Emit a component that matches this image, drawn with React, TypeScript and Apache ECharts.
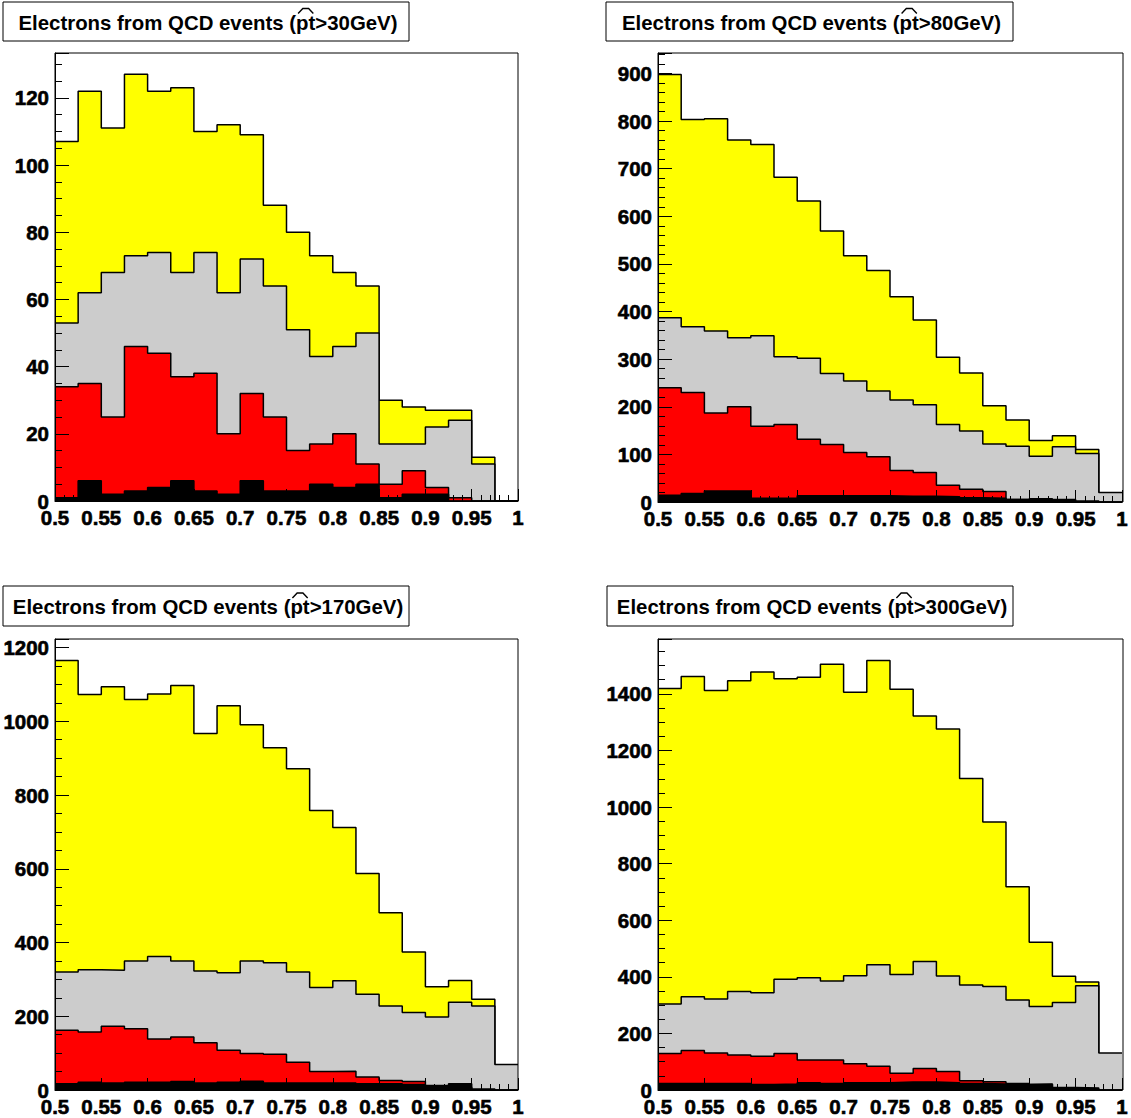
import React, { useEffect, useRef } from 'react';
import * as echarts from 'echarts';

// ---------- data ----------
const X_MIN = 0.5;
const X_MAX = 1.0;
const BIN_W = 0.025;
const xTickLabels = ['0.5', '0.55', '0.6', '0.65', '0.7', '0.75', '0.8', '0.85', '0.9', '0.95', '1'];

const ptCuts = ['30', '80', '170', '300'];

// pt > 30 GeV
const yellow30 = [107, 122, 111, 127, 122, 123, 110, 112, 109, 88, 80, 73, 68, 64, 30, 28, 27, 27, 13, 0];
const gray30 = [53, 62, 68, 73, 74, 68, 74, 62, 72, 64, 51, 43, 46, 50, 17, 17, 22, 24, 11, 0];
const red30 = [34, 35, 25, 46, 44, 37, 38, 20, 32, 25, 15, 17, 20, 11, 5, 9, 4, 1, 0, 0];
const black30 = [1, 6, 2, 3, 4, 6, 3, 2, 6, 3, 3, 5, 4, 5, 1, 2, 2, 0, 0, 0];

// pt > 80 GeV
const yellow80 = [898, 803, 805, 760, 751, 682, 632, 569, 517, 486, 431, 382, 304, 271, 202, 172, 129, 139, 110, 0];
const gray80 = [387, 368, 359, 345, 349, 305, 302, 270, 254, 233, 214, 204, 163, 149, 122, 117, 96, 116, 102, 20];
const red80 = [240, 230, 187, 200, 159, 163, 132, 121, 104, 95, 66, 62, 35, 27, 22, 5, 4, 3, 0, 0];
const black80 = [14, 18, 23, 23, 8, 8, 13, 13, 13, 13, 12, 12, 11, 9, 8, 5, 7, 5, 2, 0];

// pt > 170 GeV
const yellow170 = [1165, 1073, 1094, 1059, 1074, 1097, 967, 1042, 991, 928, 871, 758, 712, 587, 481, 374, 280, 297, 246, 0];
const gray170 = [320, 326, 325, 350, 362, 350, 323, 318, 350, 345, 320, 278, 296, 260, 228, 210, 198, 238, 228, 69];
const red170 = [162, 157, 173, 166, 138, 144, 128, 108, 99, 97, 75, 50, 51, 35, 26, 23, 6, 8, 0, 0];
const black170 = [17, 21, 19, 21, 21, 23, 19, 21, 24, 19, 19, 19, 19, 17, 17, 15, 12, 17, 3, 0];

// pt > 300 GeV
const yellow300 = [1419, 1461, 1412, 1446, 1477, 1453, 1459, 1505, 1406, 1518, 1416, 1322, 1276, 1101, 947, 718, 522, 402, 382, 0];
const gray300 = [304, 330, 322, 348, 344, 391, 397, 385, 404, 443, 408, 454, 403, 371, 366, 318, 295, 309, 368, 131];
const red300 = [129, 140, 131, 124, 119, 129, 106, 106, 93, 84, 59, 76, 65, 33, 29, 23, 19, 0, 0, 0];
const black300 = [23, 23, 23, 23, 19, 21, 26, 23, 26, 26, 28, 28, 26, 23, 21, 19, 21, 9, 7, 0];

const yTickLabels30 = ['0', '20', '40', '60', '80', '100', '120'];
const yTickLabels80 = ['0', '100', '200', '300', '400', '500', '600', '700', '800', '900'];
const yTickLabels170 = ['0', '200', '400', '600', '800', '1000', '1200'];
const yTickLabels300 = ['0', '200', '400', '600', '800', '1000', '1200', '1400'];

const yMajor = [20, 100, 200, 200];
const yMinor = [5, 20, 50, 50];

const layerColors = ['#ffff00', '#cccccc', '#ff0000', '#000000'];

const histSets = [
  [yellow30, gray30, red30, black30],
  [yellow80, gray80, red80, black80],
  [yellow170, gray170, red170, black170],
  [yellow300, gray300, red300, black300],
];
const yTickLabelSets = [yTickLabels30, yTickLabels80, yTickLabels170, yTickLabels300];

// ---------- layout ----------
const panels = [
  { left: 55, top: 53, width: 463, height: 448, box: { x: 3, y: 2, w: 406, h: 39 } },
  { left: 658, top: 53, width: 465, height: 449, box: { x: 606, y: 2, w: 407, h: 39 } },
  { left: 55, top: 639, width: 463, height: 451, box: { x: 3, y: 586, w: 406, h: 40 } },
  { left: 658, top: 639, width: 465, height: 451, box: { x: 607, y: 586, w: 406, h: 40 } },
];

const FONT = '"Liberation Sans", Arial, Helvetica, sans-serif';
const FS = 20.5;
const TFS = 20.4;

function histData(vals: number[]) {
  const pts: number[][] = vals.map((v, i) => [X_MIN + i * BIN_W, v]);
  pts.push([X_MAX, vals[vals.length - 1]]);
  return pts;
}

function measure(text: string) {
  const c = document.createElement('canvas').getContext('2d') as CanvasRenderingContext2D;
  c.font = `bold ${TFS}px ${FONT}`;
  return c.measureText(text).width;
}

const labelStyle = {
  color: '#000',
  fontSize: FS,
  fontWeight: 'bold',
  fontFamily: FONT,
  textBorderColor: '#000',
  textBorderWidth: 0.6,
};

export default function App() {
  const ref = useRef<HTMLDivElement>(null);

  useEffect(() => {
    if (!ref.current) return;
    const chart = echarts.init(ref.current, undefined, { renderer: 'svg' });

    const grid: any[] = [];
    const xAxis: any[] = [];
    const yAxis: any[] = [];
    const series: any[] = [];
    const graphic: any[] = [];

    panels.forEach((p, pi) => {
      grid.push({ left: p.left, top: p.top, width: p.width, height: p.height, show: false });
      const yMax = Math.max(...histSets[pi][0]) * 1.05;
      const labels = yTickLabelSets[pi];

      xAxis.push({
        type: 'value',
        gridIndex: pi,
        min: X_MIN,
        max: X_MAX,
        interval: 0.05,
        z: 10,
        axisLine: { show: true, onZero: false, lineStyle: { color: '#000', width: 1 } },
        axisTick: { show: true, inside: true, length: 12, lineStyle: { color: '#000', width: 1 } },
        minorTick: { show: true, splitNumber: 5, length: 6, lineStyle: { color: '#000', width: 1 } },
        splitLine: { show: false },
        minorSplitLine: { show: false },
        axisLabel: {
          ...labelStyle,
          margin: 6,
          formatter: (v: number) => {
            const i = Math.round((v - X_MIN) / 0.05);
            return xTickLabels[i] ?? '';
          },
        },
      });

      // labelled major-tick axis
      yAxis.push({
        type: 'value',
        gridIndex: pi,
        position: 'left',
        min: 0,
        max: yMax,
        interval: yMajor[pi],
        z: 10,
        axisLine: { show: true, lineStyle: { color: '#000', width: 1 } },
        axisTick: { show: true, inside: true, length: 14, lineStyle: { color: '#000', width: 1 } },
        splitLine: { show: false },
        axisLabel: {
          ...labelStyle,
          margin: 6,
          formatter: (v: number) => {
            const s = labels.find((l) => Math.abs(Number(l) - v) < 1e-6);
            return s ?? '';
          },
        },
      });
      // minor-tick axis
      yAxis.push({
        type: 'value',
        gridIndex: pi,
        position: 'left',
        min: 0,
        max: yMax,
        interval: yMinor[pi],
        z: 10,
        axisLine: { show: false },
        axisTick: { show: true, inside: true, length: 7, lineStyle: { color: '#000', width: 1 } },
        splitLine: { show: false },
        axisLabel: { show: false },
      });

      histSets[pi].forEach((vals, li) => {
        series.push({
          type: 'line',
          xAxisIndex: pi,
          yAxisIndex: pi * 2,
          data: histData(vals),
          step: 'end',
          symbol: 'none',
          showSymbol: false,
          z: 2 + li,
          lineStyle: { color: '#000', width: 1.5 },
          itemStyle: { color: layerColors[li] },
          areaStyle: { color: layerColors[li], opacity: 1 },
          emphasis: { disabled: true },
          silent: true,
        });
      });

      // frame
      graphic.push({
        type: 'rect',
        z: 50,
        silent: true,
        shape: { x: p.left, y: p.top, width: p.width, height: p.height },
        style: { fill: 'none', stroke: '#000', lineWidth: 1 },
      });

      // title box
      const b = p.box;
      const tA = 'Electrons from QCD events (';
      const tB = 'pt';
      const tC = `>${ptCuts[pi]}GeV)`;
      const wA = measure(tA);
      const wB = measure(tB);
      const wC = measure(tC);
      const W = wA + wB + wC;
      const x0 = b.x + b.w / 2 - W / 2 + 2;
      const cy = b.y + b.h / 2 + 1;
      const tStyle = (text: string, x: number) => ({
        type: 'text',
        z: 60,
        silent: true,
        x,
        y: cy,
        style: {
          text,
          fill: '#000',
          font: `bold ${TFS}px ${FONT}`,
          textAlign: 'left',
          textVerticalAlign: 'middle',
          verticalAlign: 'middle',
        },
      });
      graphic.push({
        type: 'rect',
        z: 55,
        silent: true,
        shape: { x: b.x, y: b.y, width: b.w, height: b.h },
        style: { fill: '#fff', stroke: '#000', lineWidth: 1 },
      });
      graphic.push(tStyle(tA, x0));
      graphic.push(tStyle(tB, x0 + wA));
      graphic.push(tStyle(tC, x0 + wA + wB));
      const hx = x0 + wA;
      graphic.push({
        type: 'polyline',
        z: 60,
        silent: true,
        shape: {
          points: [
            [hx + 2, cy - 9],
            [hx + wB * 0.35, cy - 14],
            [hx + wB * 0.65, cy - 14],
            [hx + wB - 2, cy - 9],
          ],
        },
        style: { stroke: '#000', lineWidth: 1.4, fill: 'none' },
      });
    });

    chart.setOption({
      animation: false,
      backgroundColor: '#fff',
      grid,
      xAxis,
      yAxis,
      series,
      graphic,
    });

    return () => chart.dispose();
  }, []);

  return (
    <div
      ref={ref}
      style={{ position: 'absolute', left: 0, top: 0, width: 1131, height: 1118, background: '#fff' }}
    />
  );
}
